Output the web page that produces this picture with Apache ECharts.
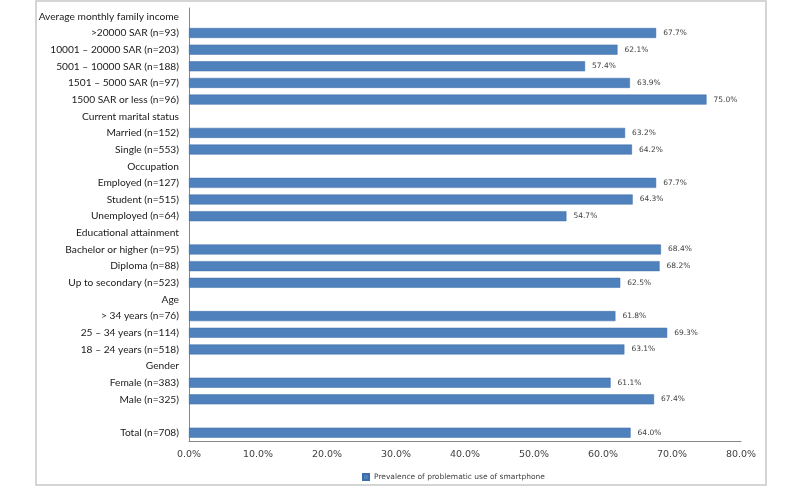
<!DOCTYPE html>
<html><head><meta charset="utf-8">
<script src="https://cdn.jsdelivr.net/npm/echarts@6/dist/echarts.min.js"></script>
<style>html,body{margin:0;padding:0;background:#fff}#c{width:800px;height:487px}</style>
</head><body><div id="c"></div>
<script>
const categories = [
  "Average monthly family income",
  ">20000 SAR (n=93)",
  "10001 – 20000 SAR (n=203)",
  "5001 – 10000 SAR (n=188)",
  "1501 – 5000 SAR (n=97)",
  "1500 SAR or less (n=96)",
  "Current marital status",
  "Married (n=152)",
  "Single (n=553)",
  "Occupation",
  "Employed (n=127)",
  "Student (n=515)",
  "Unemployed (n=64)",
  "Educational attainment",
  "Bachelor or higher (n=95)",
  "Diploma (n=88)",
  "Up to secondary (n=523)",
  "Age",
  "> 34 years (n=76)",
  "25 – 34 years (n=114)",
  "18 – 24 years (n=518)",
  "Gender",
  "Female (n=383)",
  "Male (n=325)",
  " ",
  "Total (n=708)"
];
const values = [
  null, 67.7, 62.1, 57.4, 63.9, 75.0,
  null, 63.2, 64.2,
  null, 67.7, 64.3, 54.7,
  null, 68.4, 68.2, 62.5,
  null, 61.8, 69.3, 63.1,
  null, 61.1, 67.4,
  null, 64.0
];
const seriesName = "Prevalence of problematic use of smartphone";
const xTicks = [0, 10, 20, 30, 40, 50, 60, 70, 80];

const chart = echarts.init(document.getElementById('c'), null, {renderer: 'canvas'});
chart.setOption({
  animation: false,
  backgroundColor: '#fff',
  graphic: [{
    type: 'rect', shape: {x: 36, y: 1, width: 730, height: 484},
    style: {fill: 'none', stroke: '#c8c8c8', lineWidth: 1.5}, silent: true
  }],
  grid: {left: 189, right: 59, top: 8, bottom: 46, containLabel: false},
  legend: {
    data: [seriesName], top: 468, left: 357,
    itemWidth: 6, itemHeight: 6, itemGap: 3, icon: 'rect',
    textStyle: {fontFamily: 'DejaVu Sans', fontSize: 7.5, color: '#404040'}
  },
  xAxis: {
    type: 'value', min: xTicks[0], max: xTicks[xTicks.length - 1], interval: 10,
    axisLine: {show: true, lineStyle: {color: '#868686', width: 1}},
    axisTick: {show: false},
    splitLine: {show: false},
    axisLabel: {formatter: v => v.toFixed(1) + '%', fontFamily: 'DejaVu Sans', fontSize: 9.5, color: '#404040', margin: 9}
  },
  yAxis: {
    type: 'category', data: categories, inverse: true,
    axisLine: {show: true, lineStyle: {color: '#868686', width: 1}},
    axisTick: {show: false},
    axisLabel: {fontFamily: 'Lato', fontSize: 10.2, color: '#1a1a1a', margin: 10, interval: 0}
  },
  series: [{
    name: seriesName, type: 'bar', data: values, barWidth: 10,
    itemStyle: {color: '#4f81bd', borderColor: '#3c6da8', borderWidth: 0.5},
    label: {show: true, position: 'right', distance: 7, formatter: p => p.value.toFixed(1) + '%',
      fontFamily: 'DejaVu Sans', fontSize: 7.5, color: '#404040'}
  }]
});
</script></body></html>
